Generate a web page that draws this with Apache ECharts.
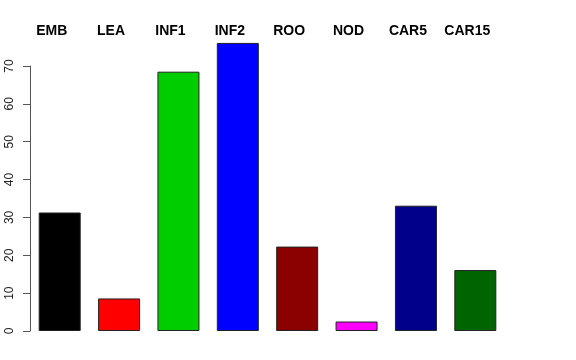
<!DOCTYPE html>
<html><head><meta charset="utf-8">
<script src="https://cdn.jsdelivr.net/npm/echarts@6/dist/echarts.min.js"></script>
<style>html,body{margin:0;padding:0;background:#fff}#c{width:576px;height:360px}</style>
</head><body><div id="c"></div>
<script>
const categories = ['EMB','LEA','INF1','INF2','ROO','NOD','CAR5','CAR15'];
const values = [31.3, 8.6, 68.5, 76.1, 22.3, 2.5, 33.1, 16.1];
const colors = ['#000000','#FF0000','#00CD00','#0000FF','#8B0000','#FF00FF','#00008B','#006400'];
const yTicks = [0,10,20,30,40,50,60,70];

const chart = echarts.init(document.getElementById('c'), null, {renderer:'canvas'});
chart.setOption({
  animation:false,
  backgroundColor:'#fff',
  grid:{left:30, right:71, top:66, bottom:29, containLabel:false},
  xAxis:{
    type:'category', data:categories, position:'top',
    axisLine:{show:false}, axisTick:{show:false},
    axisLabel:{interval:0, hideOverlap:false, margin:28, color:'#000', fontWeight:'bold', fontSize:14,
      fontFamily:'Liberation Sans, Arial, sans-serif', padding:[0,16,0,0]}
  },
  yAxis:{
    type:'value', min:0, max:70, interval:10,
    splitLine:{show:false},
    axisLine:{show:true, lineStyle:{color:'#555', width:1}},
    axisTick:{show:true, length:7, lineStyle:{color:'#555'}},
    axisLabel:{rotate:90, margin:14, color:'#222', fontSize:12,
      fontFamily:'Liberation Sans, Arial, sans-serif',
      formatter:function(v){return yTicks.indexOf(v)>=0?String(v):'';}}
  },
  series:[{
    type:'bar', clip:false, barWidth:42,
    data: values.map((v,i)=>({value:v, itemStyle:{color:colors[i]}})),
    itemStyle:{borderColor:'#222', borderWidth:1}
  }]
});
</script></body></html>
